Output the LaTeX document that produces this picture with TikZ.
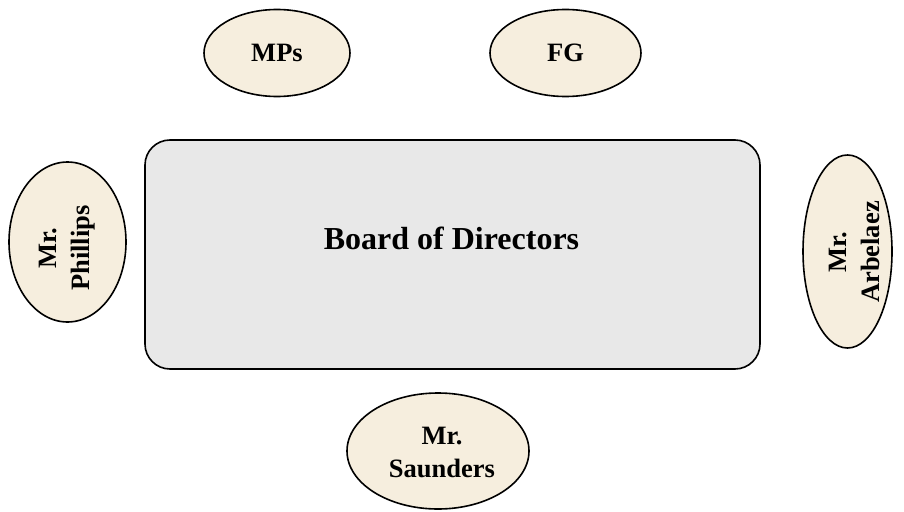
\documentclass[tikz,border=0pt]{standalone}
\usepackage{fontspec}
\setmainfont{Liberation Serif}
\usetikzlibrary{shapes.geometric}
\definecolor{creamfill}{RGB}{246,238,222}
\definecolor{boardfill}{RGB}{232,232,232}
\begin{document}
\begin{tikzpicture}[x=1pt,y=-1pt,
    seat/.style={ellipse, draw, line width=1.6pt, fill=creamfill, inner sep=0pt,
                 align=center, font=\fontsize{26.5}{32}\selectfont\bfseries},
    seattext/.style={inner sep=0pt, align=center, font=\fontsize{26.5}{33}\selectfont\bfseries},
    boardbox/.style={rectangle, draw, line width=1.6pt, fill=boardfill,
                     rounded corners=25pt, minimum width=615pt, minimum height=229pt},
    boardtext/.style={inner sep=0pt, font=\fontsize{32}{38}\selectfont\bfseries}]
        \useasboundingbox (0,0) rectangle (904,511);

        % The board in the middle
        \node[boardbox] (board) at (452.5,254.5) {};
        \node[boardtext] (boardlabel) at (451.5,238) {Board of Directors};

        % Seats above the table
        \node[seat, minimum width=146pt, minimum height=87pt] (mps) at (277,53) {MPs};
        \node[seat, minimum width=151pt, minimum height=87pt] (fg) at (565.5,53) {FG};

        % Seats at the two ends (text set a little off the middle)
        \node[seat, rotate=90, minimum width=160pt, minimum height=117pt] (phillips) at (67.5,242) {};
        \node[seattext, rotate=90] (phillipslabel) at (67.5,248) {Mr.\\Phillips};
        \node[seat, rotate=90, minimum width=193pt, minimum height=89pt] (arbelaez) at (847.5,251.5) {};
        \node[seattext, rotate=90] (arbelaezlabel) at (854,252) {Mr.\\Arbelaez};

        % Seat below the table
        \node[seat, minimum width=182pt, minimum height=116pt] (saunders) at (438,451) {};
        \node[seattext] (saunderslabel) at (442,452) {Mr.\\Saunders};
    \end{tikzpicture}
\end{document}
